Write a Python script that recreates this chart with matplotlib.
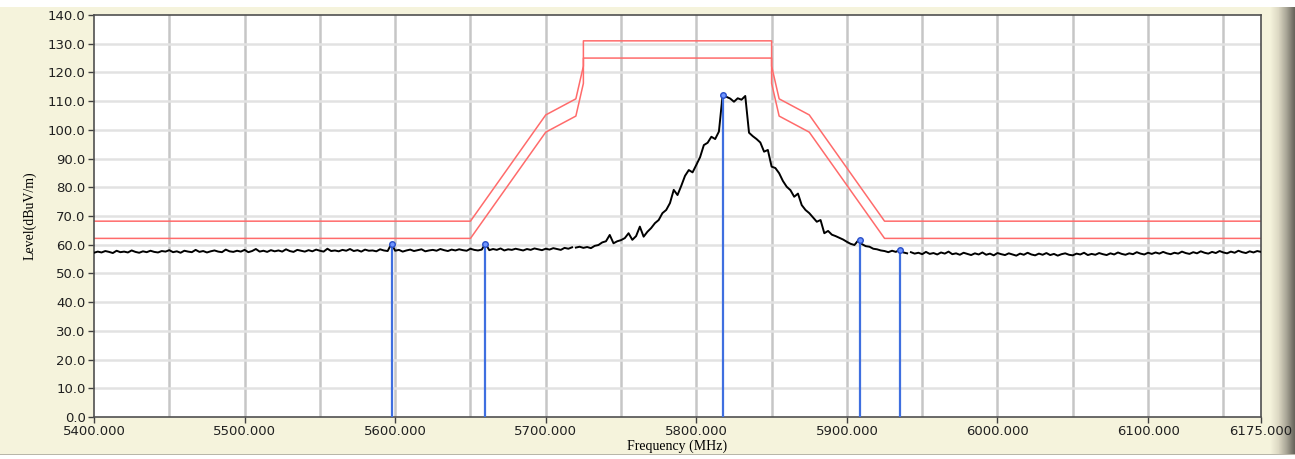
import numpy as np
import matplotlib
matplotlib.use('Agg')
import matplotlib.pyplot as plt
from matplotlib.patches import Rectangle

# measured trace, 2.5 MHz steps
left_start = 5400.0
left_level = [
    57.2, 57.6, 57.3, 57.8, 57.5, 57.1, 57.9, 57.4, 57.6, 57.3, 58.0, 57.5, 57.2, 57.7, 57.4, 57.9,
    57.5, 57.3, 57.8, 57.6, 58.1, 57.4, 57.7, 57.2, 57.9, 57.6, 57.4, 58.2, 57.5, 57.8, 57.3, 57.7,
    58.0, 57.6, 57.4, 58.3, 57.7, 57.5, 57.9, 57.6, 58.2, 57.4, 57.8, 58.5, 57.6, 57.9, 57.5, 58.1,
    57.7, 58.0, 57.6, 58.4, 57.8, 57.5, 58.2, 57.9, 57.6, 58.1, 57.7, 58.3, 57.9, 57.6, 58.6, 57.8,
    58.0, 57.7, 58.2, 57.9, 58.5, 57.8, 58.1, 57.6, 58.3, 57.9, 58.0, 57.7, 58.4, 58.0, 57.8, 60.3,
    57.9, 58.2, 57.6, 58.0, 58.3, 57.8, 58.1, 58.4, 57.7, 58.0, 58.2, 57.9, 58.5, 58.1, 57.8, 58.3,
    58.0, 58.4, 58.1, 57.9, 58.6, 58.2, 58.0, 58.3, 60.4, 58.1, 58.5, 58.2, 58.7, 58.0, 58.4, 58.2,
    58.6, 58.3, 58.0, 58.5, 58.2, 58.7, 58.4, 58.1, 58.6, 58.3, 58.8, 58.5, 58.2, 58.9, 58.6, 59.1,
]

peak_start = 5720.0
peak_level = [
    59.0, 59.3, 58.9, 59.2, 58.8, 59.6, 59.9, 60.8, 61.2, 63.4, 60.5, 61.2, 61.6, 62.3, 64.0, 61.7,
    63.0, 66.3, 62.8, 64.5, 65.8, 67.5, 68.6, 71.0, 72.1, 74.5, 79.1, 77.3, 80.5, 84.0, 86.0, 85.2,
    87.8, 90.5, 94.7, 95.5, 97.6, 96.8, 99.4, 112.3, 111.5, 110.9, 109.8, 111.0, 110.5, 111.8,
    99.0, 97.8, 96.8, 95.6, 92.4, 93.0, 87.2, 86.7, 84.9, 82.2, 80.2, 79.0, 76.7, 77.8, 73.8, 72.1,
    71.0, 69.5, 68.0, 68.6, 64.0, 64.8, 63.5, 63.0, 62.4, 61.8, 61.0, 60.3, 59.9, 61.5, 60.2, 59.5,
    59.3, 58.6, 58.4, 58.0, 57.8, 57.4, 57.9, 57.5, 58.2, 57.3, 57.0,
]

right_start = 5942.5
right_level = [
    57.4, 56.9, 57.2, 56.7, 57.5, 56.8, 57.1, 56.6, 57.3, 56.9, 57.6, 56.7, 57.0, 56.5, 57.2, 56.8,
    56.4, 57.0, 56.6, 57.3, 56.5, 56.9, 56.3, 57.1, 56.7, 56.4, 57.0, 56.6, 56.2, 56.9, 56.5, 57.2,
    56.6, 56.3, 56.9, 56.5, 57.1, 56.4, 56.8, 56.2, 56.7, 57.0, 56.5, 56.3, 56.9, 56.6, 57.2, 56.4,
    56.8, 56.5, 57.1, 56.7, 56.4, 57.0, 56.6, 57.3, 56.8, 56.5, 57.0, 56.7, 57.4, 56.9, 56.6, 57.2,
    56.8, 57.3, 56.9, 57.5, 57.0, 56.7, 57.2, 56.9, 57.6, 57.1, 56.8, 57.4, 57.0, 57.7, 57.2, 56.9,
    57.5, 57.1, 57.8, 57.3, 57.0, 57.6, 57.2, 57.9, 57.4, 57.1, 57.7, 57.3, 57.8, 57.5,
]
step = 2.5

# limit masks
mask_freq = [5400, 5650, 5700, 5720, 5725, 5725, 5850, 5850, 5855, 5875, 5925, 6175]
mask_upper = [68.2, 68.2, 105.2, 110.8, 122.2, 131.0, 131.0, 122.2, 110.8, 105.2, 68.2, 68.2]
mask_lower = [62.2, 62.2, 99.2, 104.8, 116.2, 125.0, 125.0, 116.2, 104.8, 99.2, 62.2, 62.2]

# markers
marker_freq = [5598.0, 5659.6, 5817.7, 5908.6, 5935.2]
marker_level = [60.3, 60.4, 112.3, 61.6, 58.2]

x_ticks = [5400, 5500, 5600, 5700, 5800, 5900, 6000, 6100, 6175]
y_ticks = list(range(0, 141, 10))

bg = '#f5f3dc'
fig = plt.figure(figsize=(12.95, 4.59), dpi=100, facecolor=bg)

# window edges
fig.patches.append(Rectangle((0, 1 - 7 / 459), 1, 7 / 459, transform=fig.transFigure,
                             facecolor='white', edgecolor='none'))
fig.patches.append(Rectangle((0, 0), 1, 4 / 459, transform=fig.transFigure,
                             facecolor='white', edgecolor='none'))
fig.patches.append(Rectangle((0, 4 / 459), 1, 1.2 / 459, transform=fig.transFigure,
                             facecolor='#b8b6a8', edgecolor='none'))

sh = fig.add_axes([1270 / 1295, 0, 25 / 1295, 1 - 7 / 459])
grad = np.linspace(0, 1, 50)[None, :]
sh.imshow(grad, aspect='auto', cmap=matplotlib.colors.LinearSegmentedColormap.from_list(
    'edge', [bg, '#ddd9c4', '#a8a596', '#66635a']), extent=[0, 1, 0, 1])
sh.axis('off')

ax = fig.add_axes([94 / 1295, 1 - 417 / 459, (1261 - 94) / 1295, (417 - 15) / 459])
ax.set_facecolor('white')

for v in np.arange(5450, 6175, 50):
    ax.axvline(v, color='#c6c6c6', lw=1.8, zorder=1)
for h in y_ticks[1:-1]:
    ax.axhline(h, color='#e2e2e2', lw=1.8, zorder=1)

ax.plot(mask_freq, mask_upper, color='#ff6b6b', lw=1.1, zorder=2)
ax.plot(mask_freq, mask_lower, color='#ff6b6b', lw=1.1, zorder=2)

for start, lev in [(left_start, left_level), (peak_start, peak_level), (right_start, right_level)]:
    f = start + step * np.arange(len(lev))
    ax.plot(f, lev, color='black', lw=1.4, zorder=3)

ax.vlines(marker_freq, 0, marker_level, color='#3f6fe0', lw=1.6, zorder=4)
ax.plot(marker_freq, marker_level, 'o', ms=4, mfc='#6f95ff', mec='#2a4fc8', mew=1, zorder=5)

ax.set_xlim(5400, 6175)
ax.set_ylim(0, 140)
ax.set_xticks(x_ticks)
ax.set_xticklabels(['%.3f' % t for t in x_ticks])
ax.set_yticks(y_ticks)
ax.set_yticklabels(['%.1f' % t for t in y_ticks])
ax.tick_params(axis='both', direction='out', length=4, width=1, color='#404040',
               labelsize=9.5, labelcolor='#202020', pad=2)
for s in ax.spines.values():
    s.set_color('#505050')
    s.set_linewidth(1.2)

ax.set_xlabel('Frequency (MHz)', family='Liberation Serif', fontsize=10, labelpad=1)
ax.set_ylabel('Level(dBuV/m)', family='Liberation Serif', fontsize=10, labelpad=8)

fig.savefig('out.png', dpi=100, facecolor=bg)
